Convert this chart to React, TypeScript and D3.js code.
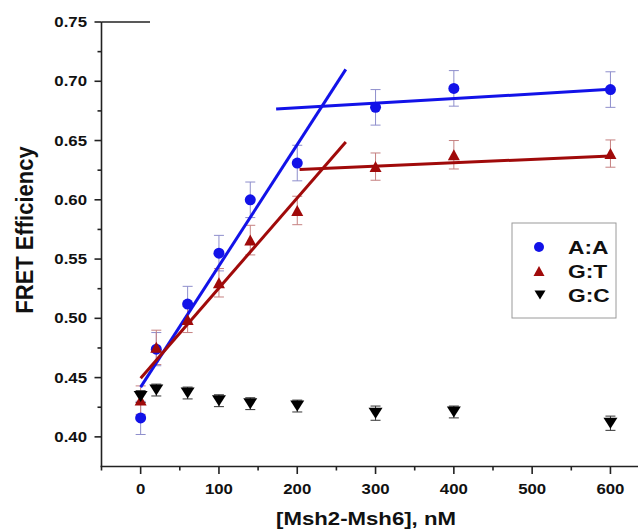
import React from "react";
import * as d3 from "d3";

const conc = [0, 20, 60, 100, 140, 200, 300, 400, 600];
const aaVals = [0.416, 0.474, 0.512, 0.555, 0.6, 0.631, 0.678, 0.694, 0.693];
const aaErr = [0.014, 0.014, 0.015, 0.015, 0.015, 0.015, 0.015, 0.015, 0.015];
const gtVals = [0.431, 0.4755, 0.499, 0.53, 0.566, 0.591, 0.628, 0.638, 0.639];
const gtErr = [0.012, 0.0145, 0.011, 0.012, 0.0125, 0.012, 0.0115, 0.012, 0.0115];
const gcVals = [0.434, 0.4395, 0.437, 0.4305, 0.428, 0.426, 0.42, 0.421, 0.4115];
const gcErr = [0.005, 0.005, 0.005, 0.005, 0.005, 0.005, 0.006, 0.005, 0.006];

const aaFit1X = [0, 262];
const aaFit1Y = [0.442, 0.71];
const aaFit2X = [173, 600];
const aaFit2Y = [0.6765, 0.6932];
const gtFit1X = [0, 262];
const gtFit1Y = [0.4495, 0.6488];
const gtFit2X = [203, 600];
const gtFit2Y = [0.6256, 0.637];

const xTicks = [0, 100, 200, 300, 400, 500, 600];
const xMinor = [-50, 50, 150, 250, 350, 450, 550, 650];
const yTicks = [0.4, 0.45, 0.5, 0.55, 0.6, 0.65, 0.7, 0.75];
const yMinor = [0.425, 0.475, 0.525, 0.575, 0.625, 0.675, 0.725];
const legendLabels = ["A:A", "G:T", "G:C"];

const W = 638;
const H = 531;
const FONT = "'Liberation Sans', Arial, Helvetica, sans-serif";
const BLUE = "#1212e8";
const RED = "#a00a0a";
const BLACK = "#000000";

const x = d3.scaleLinear().domain([-50, 650]).range([101.5, 649.6]);
const y = d3.scaleLinear().domain([0.375, 0.75]).range([466.5, 22]);

function T(props: any) {
  const { px, py, anchor = "start", size = 14, sx = 1.2, rot = false, children } = props;
  return (
    <text
      transform={`translate(${px},${py}) scale(${sx},1)${rot ? " rotate(-90)" : ""}`}
      textAnchor={anchor}
      fontSize={size}
      fontWeight="bold"
      fontFamily={FONT}
      fill="#111"
    >
      {children}
    </text>
  );
}

function upTri(cx: number, cy: number, w: number, h: number) {
  return `M${cx},${cy - h / 2}L${cx + w / 2},${cy + h / 2}L${cx - w / 2},${cy + h / 2}Z`;
}
function downTri(cx: number, cy: number, w: number, h: number) {
  return `M${cx - w / 2},${cy - h / 2}L${cx + w / 2},${cy - h / 2}L${cx},${cy + h / 2}Z`;
}

function ErrBars({ vals, errs, color }: any) {
  return (
    <g stroke={color} strokeWidth={1} fill="none">
      {conc.map((c, i) => {
        const px = x(c);
        const y0 = y(vals[i] - errs[i]);
        const y1 = y(vals[i] + errs[i]);
        return (
          <g key={i}>
            <line x1={px} x2={px} y1={y0} y2={y1} />
            <line x1={px - 5} x2={px + 5} y1={y0} y2={y0} />
            <line x1={px - 5} x2={px + 5} y1={y1} y2={y1} />
          </g>
        );
      })}
    </g>
  );
}

export default function App() {
  const line = d3
    .line<[number, number]>()
    .x((d) => x(d[0]))
    .y((d) => y(d[1]));
  const seg = (xs: number[], ys: number[]) => line(xs.map((v, i) => [v, ys[i]] as [number, number])) || "";

  return (
    <svg
      width={W}
      height={H}
      style={{ position: "absolute", left: 0, top: 0, background: "#fff" }}
    >
      <rect x={0} y={0} width={W} height={H} fill="#fff" />

      {/* error bars */}
      <ErrBars vals={aaVals} errs={aaErr} color="#8e8ecc" />
      <ErrBars vals={gtVals} errs={gtErr} color="#c58080" />
      <ErrBars vals={gcVals} errs={gcErr} color="#333" />

      {/* fit lines */}
      <path d={seg(aaFit1X, aaFit1Y)} stroke={BLUE} strokeWidth={3} fill="none" />
      <path d={seg(aaFit2X, aaFit2Y)} stroke={BLUE} strokeWidth={3} fill="none" />
      <path d={seg(gtFit1X, gtFit1Y)} stroke={RED} strokeWidth={3} fill="none" />
      <path d={seg(gtFit2X, gtFit2Y)} stroke={RED} strokeWidth={3} fill="none" />

      {/* points */}
      {conc.map((c, i) => (
        <circle key={"a" + i} cx={x(c)} cy={y(aaVals[i])} r={5.5} fill={BLUE} />
      ))}
      {conc.map((c, i) => (
        <path key={"g" + i} d={upTri(x(c), y(gtVals[i]), 12, 11)} fill={RED} />
      ))}
      {conc.map((c, i) => (
        <path key={"c" + i} d={downTri(x(c), y(gcVals[i]), 14, 11)} fill={BLACK} />
      ))}

      {/* axes */}
      <g stroke="#222" strokeWidth={1.6}>
        <line x1={x(-50)} x2={x(-50)} y1={y(0.75)} y2={y(0.375)} />
        <line x1={x(-50) - 1} x2={W} y1={y(0.375)} y2={y(0.375)} />
        <line x1={x(-50)} x2={150} y1={y(0.75)} y2={y(0.75)} />
        {yTicks.map((t) => (
          <line key={t} x1={x(-50) - 7} x2={x(-50)} y1={y(t)} y2={y(t)} />
        ))}
        {yMinor.map((t) => (
          <line key={t} x1={x(-50) - 4} x2={x(-50)} y1={y(t)} y2={y(t)} />
        ))}
        {xTicks.map((t) => (
          <line key={t} x1={x(t)} x2={x(t)} y1={y(0.375)} y2={y(0.375) + 7.5} />
        ))}
        {xMinor.map((t) => (
          <line key={t} x1={x(t)} x2={x(t)} y1={y(0.375)} y2={y(0.375) + 4} />
        ))}
      </g>
      {yTicks.map((t) => (
        <T key={t} px={87} py={y(t) + 5} anchor="end" size={14}>
          {d3.format(".2f")(t)}
        </T>
      ))}
      {xTicks.map((t) => (
        <T key={t} px={x(t)} py={493.5} anchor="middle" size={14}>
          {String(t)}
        </T>
      ))}
      <T px={366} py={525} anchor="middle" size={18.5}>
        [Msh2-Msh6], nM
      </T>
      <T px={33} py={230} anchor="middle" size={22} sx={1.08} rot>
        FRET Efficiency
      </T>

      {/* legend */}
      <rect x={512} y={223} width={104} height={95} fill="#fff" stroke="#9a9a9a" strokeWidth={1} />
      <circle cx={539} cy={247} r={5} fill={BLUE} />
      <path d={upTri(539, 271, 11, 10)} fill={RED} />
      <path d={downTri(540, 295, 11, 9)} fill={BLACK} />
      {legendLabels.map((l, i) => (
        <T key={l} px={568} py={247 + i * 24 + 7} size={19}>
          {l}
        </T>
      ))}
    </svg>
  );
}
